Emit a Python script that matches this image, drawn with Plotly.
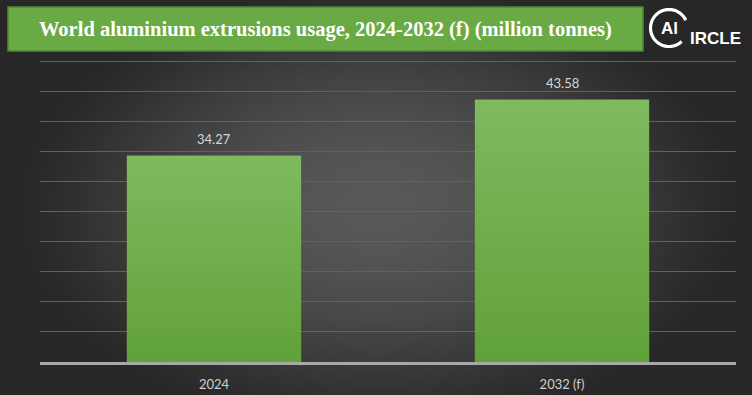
import base64, struct, zlib, math
import numpy as np
import plotly.graph_objects as go

# ---- data ----
categories = ["2024", "2032 (f)"]
values = [34.27, 43.58]
value_labels = ["34.27", "43.58"]
title_text = "World aluminium extrusions usage, 2024-2032 (f) (million tonnes)"

W, H = 752, 395
L, R, T, B = 40, 16, 60, 33
PW, PH = W - L - R, H - T - B


def px_x(px):
    return (px - L) / PW


def px_y(py):
    return (H - B - py) / PH


def to_png(rgb):
    h, w, _ = rgb.shape
    raw = b"".join(b"\x00" + rgb[i].tobytes() for i in range(h))

    def chunk(tag, data):
        c = struct.pack(">I", len(data)) + tag + data
        return c + struct.pack(">I", zlib.crc32(tag + data) & 0xFFFFFFFF)

    ihdr = struct.pack(">IIBBBBB", w, h, 8, 2, 0, 0, 0)
    png = b"\x89PNG\r\n\x1a\n" + chunk(b"IHDR", ihdr) + chunk(b"IDAT", zlib.compress(raw, 9)) + chunk(b"IEND", b"")
    return "data:image/png;base64," + base64.b64encode(png).decode()


# radial gradient background
def bg_png(w, h):
    yy, xx = np.mgrid[0:h, 0:w]
    cx, cy = w * 0.5, h * 0.52
    d2 = ((xx - cx) / (w * 0.5)) ** 2 + ((yy - cy) / (h * 0.6)) ** 2
    f = np.clip(1 - d2, 0, 1) ** 1.5
    v = (39 + (88 - 39) * f).astype(np.uint8)
    return to_png(np.stack([v, v, v], axis=-1))


# vertical green gradient for bar faces
def bar_png(h=64):
    t = np.linspace(0, 1, h)[:, None]
    top = np.array([128, 186, 96])
    bot = np.array([98, 162, 58])
    col = (top + (bot - top) * t).astype(np.uint8)
    return to_png(np.repeat(col[:, None, :], 4, axis=1))


bg = bg_png(188, 99)
bar_img = bar_png()
xpos = list(range(len(categories)))
bar_w = 0.5

fig = go.Figure()
fig.add_trace(go.Bar(
    x=xpos, y=values, width=bar_w,
    marker=dict(color="#6cad45", line=dict(color="#5a9638", width=0.5)),
    hoverinfo="skip",
))

images = [dict(source=bg, xref="paper", yref="paper", x=px_x(0), y=px_y(0),
               sizex=W / PW, sizey=H / PH, sizing="stretch", layer="below",
               xanchor="left", yanchor="top")]
# gradient face painted over each bar, positioned through the data scales
for xp, v in zip(xpos, values):
    images.append(dict(source=bar_img, xref="x", yref="y", x=xp - bar_w / 2, y=v,
                       sizex=bar_w, sizey=v, sizing="stretch", layer="above",
                       xanchor="left", yanchor="top"))

for xp, v, lab in zip(xpos, values, value_labels):
    fig.add_annotation(x=xp, y=v, text=lab, showarrow=False, yanchor="bottom", yshift=7,
                       font=dict(family="Lato, Noto Sans, sans-serif", size=13, color="#d6d6d6"))

# title box
fig.add_shape(type="rect", xref="paper", yref="paper",
              x0=px_x(8), x1=px_x(643), y0=px_y(51), y1=px_y(7),
              fillcolor="#6aaa44", line=dict(color="#4d8a2e", width=1.5), layer="above")
fig.add_annotation(xref="paper", yref="paper", x=px_x(325), y=px_y(29), text="<b>" + title_text + "</b>",
                   showarrow=False, xanchor="center", yanchor="middle",
                   font=dict(family="Liberation Serif, DejaVu Serif, serif", size=20.5, color="#ffffff"))

# logo: circle arc + text
cxp, cyp, r = 669, 28, 18.5
a0, a1 = math.radians(25), math.radians(313)
pts = []
for k in range(41):
    a = a0 + (a1 - a0) * k / 40
    pts.append((px_x(cxp + r * math.cos(a)), px_y(cyp - r * math.sin(a))))
path = "M " + " L ".join(f"{x:.5f},{y:.5f}" for x, y in pts)
fig.add_shape(type="path", xref="paper", yref="paper", path=path,
              line=dict(color="#ffffff", width=3.2), layer="above")
fig.add_annotation(xref="paper", yref="paper", x=px_x(669), y=px_y(28.5), text="<b>Al</b>",
                   showarrow=False, xanchor="center", yanchor="middle",
                   font=dict(family="Liberation Sans, Arial, sans-serif", size=17, color="#ffffff"))
fig.add_annotation(xref="paper", yref="paper", x=px_x(688), y=px_y(39), text="<b>IRCLE</b>",
                   showarrow=False, xanchor="left", yanchor="middle",
                   font=dict(family="Liberation Sans, Arial, sans-serif", size=17, color="#ffffff"))

fig.update_layout(
    width=W, height=H,
    margin=dict(l=L, r=R, t=T, b=B, autoexpand=False),
    paper_bgcolor="#2c2c2c",
    plot_bgcolor="rgba(0,0,0,0)",
    showlegend=False,
    images=images,
    xaxis=dict(range=[-0.5, len(categories) - 0.5], tickmode="array", tickvals=xpos, ticktext=categories,
               showline=True, linecolor="#a8a8a8", linewidth=2.5, ticks="outside", automargin=False,
               ticklen=9, tickcolor="rgba(0,0,0,0)", showgrid=False, zeroline=False, fixedrange=True,
               tickfont=dict(family="Lato, Noto Sans, sans-serif", size=13, color="#d0d0d0")),
    yaxis=dict(range=[0, 50.2], tickmode="linear", tick0=0, dtick=5, showticklabels=False, showgrid=True,
               gridcolor="#616161", gridwidth=1, zeroline=False, fixedrange=True, automargin=False),
)

fig.write_html("out.html", config={"displayModeBar": False},
               post_script="document.body.style.margin='0';")
